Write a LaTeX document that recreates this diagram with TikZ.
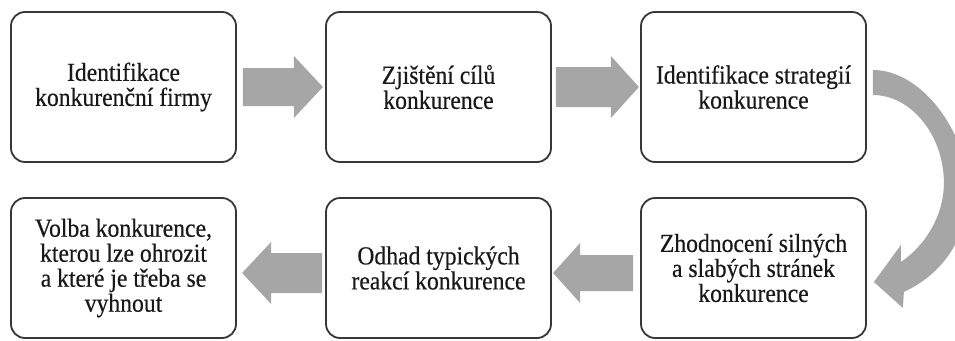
\documentclass[tikz,border=0pt]{standalone}
\usepackage{fontspec}
\newfontfamily\boxfont[FakeStretch=0.91,FakeBold=0.4]{Liberation Serif}
\definecolor{arrowgray}{RGB}{166,166,166}
\definecolor{boxline}{RGB}{55,55,55}
\definecolor{txtcol}{RGB}{25,25,25}
\tikzset{
  stepbox/.style={draw=boxline, line width=1.8pt, rounded corners=14pt, fill=white,
    minimum width=225pt, align=center, inner sep=0pt, text=txtcol,
    font=\boxfont\fontsize{26}{25}\selectfont},
  toprow/.style={stepbox, minimum height=150pt},
  botrow/.style={stepbox, minimum height=140pt},
  blockarrow/.style={fill=arrowgray, draw=none}
}
\begin{document}
\begin{tikzpicture}[x=1pt,y=-1pt]
\useasboundingbox (0,0) rectangle (955,340);
\clip (0,0) rectangle (955,340);
% boxes
\node[toprow] (b1) at (123.5,87) {Identifikace\\konkurenční firmy};
\node[toprow] (b2) at (438.5,87) {Zjištění cílů\\konkurence};
\node[toprow] (b3) at (753.5,87) {Identifikace strategií\\konkurence};
\node[botrow] (b4) at (753.5,268) {Zhodnocení silných\\a slabých stránek\\konkurence};
\node[botrow] (b5) at (438.5,268) {Odhad typických\\reakcí konkurence};
\node[botrow] (b6) at (123.5,268) {Volba konkurence,\\kterou lze ohrozit\\a které je třeba se\\vyhnout};
% straight block arrows (right)
\begin{scope}[shift={(b1.east)}, xshift=6pt]
  \fill[blockarrow] (0,-19) -- (51,-19) -- (51,-31) -- (80,0) -- (51,31) -- (51,19) -- (0,19) -- cycle;
\end{scope}
\begin{scope}[shift={(b2.east)}, xshift=4pt]
  \fill[blockarrow] (0,-20) -- (55,-20) -- (55,-31) -- (83,0) -- (55,31) -- (55,20) -- (0,20) -- cycle;
\end{scope}
% straight block arrows (left)
\begin{scope}[shift={(b4.west)}, xshift=-7pt, yshift=-5pt]
  \fill[blockarrow] (0,-18) -- (-53,-18) -- (-53,-30) -- (-80,0) -- (-53,30) -- (-53,18) -- (0,18) -- cycle;
\end{scope}
\begin{scope}[shift={(b5.west)}, xshift=-3pt, yshift=-5pt]
  \fill[blockarrow] (0,-20) -- (-51,-20) -- (-51,-31) -- (-80,0) -- (-51,31) -- (-51,20) -- (0,20) -- cycle;
\end{scope}
% curved arrow from b3 to b4
\begin{scope}[shift={(b3.east)}]
  \fill[blockarrow] (6,-17) .. controls (52,-17) and (96,38) .. (102,98)
    .. controls (102,148) and (79,185) .. (37,205)
    -- (36,221) -- (7,195) -- (34,158) -- (34,175)
    .. controls (59,158) and (77,128) .. (77,96)
    .. controls (77,48) and (44,8) .. (6,8) -- cycle;
\end{scope}
\end{tikzpicture}
\end{document}
